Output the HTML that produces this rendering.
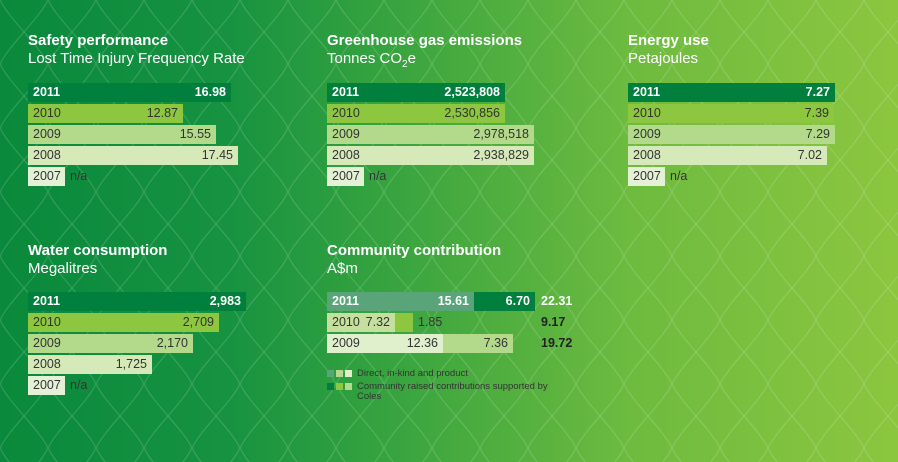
<!DOCTYPE html>
<html><head><meta charset="utf-8"><style>
*{margin:0;padding:0;box-sizing:border-box}
body{width:898px;height:462px;overflow:hidden;position:relative;font-family:"Liberation Sans",Arial,sans-serif;background:linear-gradient(90deg,#0a893c 0%,#169240 25%,#3aa53f 45%,#6dbb3f 70%,#8cc63f 100%)}
svg.bg{position:absolute;left:0;top:0}
.t{position:absolute;color:#fff;font-size:15px;line-height:18px}
.t b{display:block;font-weight:bold}
.b{position:absolute;height:19px;font-size:12.5px;line-height:19px;color:#333;padding:0 5px}
.b .y{position:absolute;left:5px}
.b .v{position:absolute;right:5px}
.d{background:#007f3d;color:#fff;font-weight:bold}
.c1{background:#8dc63f}.c2{background:#b3d98a}.c3{background:#d6eab9}.c4{background:#e5f1d7}
.na{position:absolute;font-size:12.5px;line-height:19px;color:#333}
.tx{position:absolute;font-size:12.5px;line-height:19px;font-weight:bold}
.lg{position:absolute;font-size:9.5px;line-height:10px;color:#333}
.sq{position:absolute;width:7px;height:7px}
</style></head><body>
<svg class="bg" width="898" height="462"><defs><pattern id="p" width="48" height="64" patternUnits="userSpaceOnUse"><path d="M0 0 C10 20 38 44 48 64 M48 0 C38 20 10 44 0 64" fill="none" stroke="rgba(255,255,255,0.18)" stroke-width="1"/></pattern></defs><rect width="898" height="462" fill="url(#p)"/></svg>

<div class="t" style="left:28px;top:32px"><b>Safety performance</b>Lost Time Injury Frequency Rate</div>
<div class="b d" style="left:28px;top:83px;width:203px"><span class="y">2011</span><span class="v">16.98</span></div>
<div class="b c1" style="left:28px;top:104px;width:155px"><span class="y">2010</span><span class="v">12.87</span></div>
<div class="b c2" style="left:28px;top:125px;width:188px"><span class="y">2009</span><span class="v">15.55</span></div>
<div class="b c3" style="left:28px;top:146px;width:210px"><span class="y">2008</span><span class="v">17.45</span></div>
<div class="b c4" style="left:28px;top:167px;width:37px"><span class="y">2007</span></div>
<div class="na" style="left:70px;top:167px">n/a</div>

<div class="t" style="left:327px;top:32px"><b>Greenhouse gas emissions</b>Tonnes CO<sub style="font-size:10px">2</sub>e</div>
<div class="b d" style="left:327px;top:83px;width:178px"><span class="y">2011</span><span class="v">2,523,808</span></div>
<div class="b c1" style="left:327px;top:104px;width:178px"><span class="y">2010</span><span class="v">2,530,856</span></div>
<div class="b c2" style="left:327px;top:125px;width:207px"><span class="y">2009</span><span class="v">2,978,518</span></div>
<div class="b c3" style="left:327px;top:146px;width:207px"><span class="y">2008</span><span class="v">2,938,829</span></div>
<div class="b c4" style="left:327px;top:167px;width:37px"><span class="y">2007</span></div>
<div class="na" style="left:369px;top:167px">n/a</div>

<div class="t" style="left:628px;top:32px"><b>Energy use</b>Petajoules</div>
<div class="b d" style="left:628px;top:83px;width:207px"><span class="y">2011</span><span class="v">7.27</span></div>
<div class="b c1" style="left:628px;top:104px;width:206px"><span class="y">2010</span><span class="v">7.39</span></div>
<div class="b c2" style="left:628px;top:125px;width:207px"><span class="y">2009</span><span class="v">7.29</span></div>
<div class="b c3" style="left:628px;top:146px;width:199px"><span class="y">2008</span><span class="v">7.02</span></div>
<div class="b c4" style="left:628px;top:167px;width:37px"><span class="y">2007</span></div>
<div class="na" style="left:670px;top:167px">n/a</div>

<div class="t" style="left:28px;top:242px"><b>Water consumption</b>Megalitres</div>
<div class="b d" style="left:28px;top:292px;width:218px"><span class="y">2011</span><span class="v">2,983</span></div>
<div class="b c1" style="left:28px;top:313px;width:191px"><span class="y">2010</span><span class="v">2,709</span></div>
<div class="b c2" style="left:28px;top:334px;width:165px"><span class="y">2009</span><span class="v">2,170</span></div>
<div class="b c3" style="left:28px;top:355px;width:124px"><span class="y">2008</span><span class="v">1,725</span></div>
<div class="b c4" style="left:28px;top:376px;width:37px"><span class="y">2007</span></div>
<div class="na" style="left:70px;top:376px">n/a</div>

<div class="t" style="left:327px;top:242px"><b>Community contribution</b>A$m</div>
<div class="b" style="left:327px;top:292px;width:147px;background:#5aa47a;color:#fff;font-weight:bold"><span class="y">2011</span><span class="v">15.61</span></div>
<div class="b d" style="left:474px;top:292px;width:61px"><span class="v">6.70</span></div>
<div class="tx" style="left:541px;top:292px;color:#fff">22.31</div>
<div class="b" style="left:327px;top:313px;width:68px;background:#c5e09e"><span class="y">2010</span><span class="v">7.32</span></div>
<div class="b c1" style="left:395px;top:313px;width:18px"></div>
<div class="na" style="left:418px;top:313px">1.85</div>
<div class="tx" style="left:541px;top:313px;color:#222">9.17</div>
<div class="b" style="left:327px;top:334px;width:116px;background:#e0efcc"><span class="y">2009</span><span class="v">12.36</span></div>
<div class="b c2" style="left:443px;top:334px;width:70px"><span class="v">7.36</span></div>
<div class="tx" style="left:541px;top:334px;color:#222">19.72</div>
<div class="sq" style="left:327px;top:370px;background:#5aa47a"></div>
<div class="sq" style="left:336px;top:370px;background:#b3d98a"></div>
<div class="sq" style="left:345px;top:370px;background:#e0efcc"></div>
<div class="lg" style="left:357px;top:369px">Direct, in-kind and product</div>
<div class="sq" style="left:327px;top:383px;background:#007f3d"></div>
<div class="sq" style="left:336px;top:383px;background:#8dc63f"></div>
<div class="sq" style="left:345px;top:383px;background:#b3d98a"></div>
<div class="lg" style="left:357px;top:382px;width:200px">Community raised contributions supported by Coles</div>
</body></html>
